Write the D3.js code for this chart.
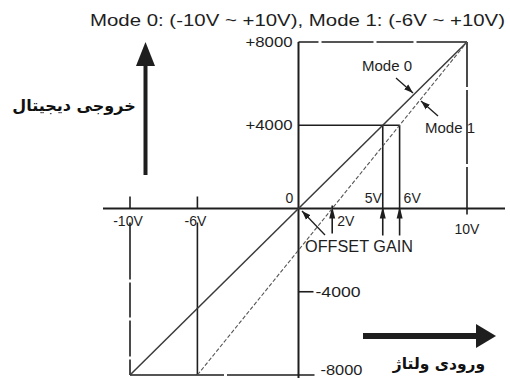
<!DOCTYPE html>
<html>
<head>
<meta charset="utf-8">
<script src="https://cdn.jsdelivr.net/npm/d3@7"></script>
<style>
  body { margin: 0; background: #fff; }
  svg { display: block; font-family: "Liberation Sans", Arial, sans-serif; }
</style>
</head>
<body>
<svg id="chart" width="510" height="378"></svg>
<script>
// chart values
const titleText = "Mode 0: (-10V ~ +10V), Mode 1: (-6V ~ +10V)";
const xTickValues = [-10, -6, 10];
const xTickLabels = ["-10V", "-6V", "10V"];
const yTickValues = [8000, 4000, 0, -4000, -8000];
const yTickLabels = ["+8000", "+4000", "0", "-4000", "-8000"];
const mode0 = [[-10, -8000], [10, 8000]];
const mode1 = [[-6, -8000], [10, 8000]];
const offsetV = 2;      // mode 1 crosses zero here
const gainV = [5, 6];   // +4000 reached by mode 0 / mode 1
const yLabelText = "خروجی دیجیتال";
const xLabelText = "ورودی ولتاژ";

function init() {
    chart();
}

function chart() {
    const svg = d3.select("#chart");
    const ink = "#1e1e1e";

    const x = d3.scaleLinear().domain([-10, 10]).range([130, 467]);
    const y = d3.scaleLinear().domain([-8000, 8000]).range([375, 42]);
    const x0 = x(0), y0 = y(0);

    svg.append("defs").append("marker")
        .attr("id", "head")
        .attr("viewBox", "0 0 10 10")
        .attr("refX", 10).attr("refY", 5)
        .attr("markerWidth", 7).attr("markerHeight", 7)
        .attr("orient", "auto")
        .append("path")
        .attr("d", "M0,1.5L10,5L0,8.5Z")
        .attr("fill", ink);

    // title
    svg.append("text")
        .attr("x", 90).attr("y", 26)
        .attr("font-size", "16.5px")
        .attr("textLength", 415)
        .attr("lengthAdjust", "spacingAndGlyphs")
        .attr("fill", ink)
        .text(titleText);

    // frame lines (dashed with long dashes)
    const frame = svg.append("g").attr("stroke", ink).attr("stroke-width", 1.6).attr("fill", "none");
    frame.append("line") // top
        .attr("x1", x0).attr("x2", x(10)).attr("y1", y(8000)).attr("y2", y(8000))
        .attr("stroke-dasharray", "20,3,52,3,37,3,52");
    frame.append("line") // right
        .attr("x1", x(10)).attr("x2", x(10)).attr("y1", y(8000)).attr("y2", y0 + 6)
        .attr("stroke-dasharray", "45,3,74,3,60");
    frame.append("line") // left -10V
        .attr("x1", x(-10)).attr("x2", x(-10)).attr("y1", y0 + 14).attr("y2", y(-8000))
        .attr("stroke-dasharray", "57,3,35,3,36,3,40");
    frame.append("line") // bottom
        .attr("x1", x(-10)).attr("x2", x0 + 16).attr("y1", y(-8000)).attr("y2", y(-8000))
        .attr("stroke-dasharray", "94,3,200");
    frame.append("line") // -6V
        .attr("x1", x(-6)).attr("x2", x(-6)).attr("y1", y0 + 14).attr("y2", y(-8000));
    frame.append("line") // +4000 level
        .attr("x1", x0).attr("x2", x(gainV[1])).attr("y1", y(4000)).attr("y2", y(4000));

    // ticks above x-axis at -10V, -6V
    frame.selectAll(".xt")
        .data(xTickValues.slice(0, 2))
        .join("line")
        .attr("x1", d => x(d)).attr("x2", d => x(d))
        .attr("y1", y0 - 12).attr("y2", y0);

    // -4000 tick
    frame.append("line")
        .attr("x1", x0).attr("x2", x0 + 15).attr("y1", y(-4000)).attr("y2", y(-4000));

    // gain / offset drop lines
    frame.selectAll(".gl")
        .data(gainV)
        .join("line")
        .attr("x1", d => x(d)).attr("x2", d => x(d))
        .attr("y1", y(4000)).attr("y2", y0 + 27);
    frame.append("line")
        .attr("x1", x(offsetV)).attr("x2", x(offsetV))
        .attr("y1", y0 - 3).attr("y2", y0 + 25);

    // small up arrowheads on the axis
    svg.selectAll(".ah")
        .data(gainV.concat([offsetV]))
        .join("path")
        .attr("d", d => `M${x(d)},${y0 - 2}L${x(d) - 3},${y0 + 10}L${x(d) + 3},${y0 + 10}Z`)
        .attr("fill", ink);

    // axes
    svg.append("line")
        .attr("x1", 103).attr("x2", 505).attr("y1", y0).attr("y2", y0)
        .attr("stroke", ink).attr("stroke-width", 2);
    svg.append("line")
        .attr("x1", x0).attr("x2", x0).attr("y1", y(8000)).attr("y2", 378)
        .attr("stroke", ink).attr("stroke-width", 2);

    // transfer lines
    const line = d3.line().x(d => x(d[0])).y(d => y(d[1]));
    svg.append("path")
        .datum(mode0)
        .attr("d", line)
        .attr("fill", "none")
        .attr("stroke", "#3a3a3a")
        .attr("stroke-width", 1.5);
    svg.append("path")
        .datum(mode1)
        .attr("d", line)
        .attr("fill", "none")
        .attr("stroke", "#555")
        .attr("stroke-width", 1.1)
        .attr("stroke-dasharray", "4,2");

    // leaders
    const leaders = [
        [396, 78, 413, 93],
        [438, 116, 421, 101],
        [325, 235, 302, 211]
    ];
    svg.selectAll(".ld")
        .data(leaders)
        .join("line")
        .attr("x1", d => d[0]).attr("y1", d => d[1])
        .attr("x2", d => d[2]).attr("y2", d => d[3])
        .attr("stroke", ink).attr("stroke-width", 1.3)
        .attr("marker-end", "url(#head)");

    // x tick labels
    svg.selectAll(".xl")
        .data(xTickValues)
        .join("text")
        .attr("x", d => x(d) + (d === 10 ? 0 : -2))
        .attr("y", d => d === 10 ? y0 + 25 : y0 + 17)
        .attr("text-anchor", "middle")
        .attr("font-size", "14px")
        .attr("fill", ink)
        .text((d, i) => xTickLabels[i]);

    // y tick labels
    const yLen = { "8000": 47, "4000": 47, "-4000": 45, "-8000": 42 };
    svg.selectAll(".yl")
        .data(yTickValues)
        .join("text")
        .attr("x", d => d > 0 ? x0 - 53 : (d === 0 ? x0 - 13 : x0 + (d === -8000 ? 22 : 17)))
        .attr("y", d => d === 0 ? y0 - 6 : (d === -8000 ? y(d) : y(d) + 5))
        .attr("font-size", "14px")
        .attr("fill", ink)
        .each(function (d) {
            if (yLen[d]) d3.select(this).attr("textLength", yLen[d]).attr("lengthAdjust", "spacingAndGlyphs");
        })
        .text((d, i) => yTickLabels[i]);

    // gain / offset labels
    svg.append("text").attr("x", x(gainV[0]) - 1).attr("y", y0 - 6)
        .attr("text-anchor", "end").attr("font-size", "14px").attr("fill", ink)
        .text(gainV[0] + "V");
    svg.append("text").attr("x", x(gainV[1]) + 4).attr("y", y0 - 6)
        .attr("font-size", "14px").attr("fill", ink)
        .text(gainV[1] + "V");
    svg.append("text").attr("x", x(offsetV) + 5).attr("y", y0 + 17)
        .attr("font-size", "14px").attr("fill", ink)
        .text(offsetV + "V");
    svg.append("text").attr("x", 305).attr("y", 252)
        .attr("font-size", "16px").attr("fill", ink)
        .attr("textLength", 108).attr("lengthAdjust", "spacingAndGlyphs")
        .text("OFFSET GAIN");

    // mode labels
    svg.append("text").attr("x", 362).attr("y", 71)
        .attr("font-size", "15px").attr("fill", ink).text("Mode 0");
    svg.append("text").attr("x", 425).attr("y", 133)
        .attr("font-size", "15px").attr("fill", ink).text("Mode 1");

    // big arrows
    svg.append("rect").attr("x", 143.5).attr("y", 62).attr("width", 4).attr("height", 113).attr("fill", ink);
    svg.append("path").attr("d", "M136,66L155,66L145.5,42Z").attr("fill", ink);
    svg.append("rect").attr("x", 363).attr("y", 333).attr("width", 117).attr("height", 6).attr("fill", ink);
    svg.append("path").attr("d", "M476,324L476,348L496,336Z").attr("fill", ink);

    // persian axis titles
    svg.append("text")
        .attr("x", 74).attr("y", 111)
        .attr("text-anchor", "middle")
        .attr("font-family", "DejaVu Sans")
        .attr("font-weight", "bold")
        .attr("font-size", "16px")
        .attr("fill", "#111")
        .text(yLabelText);
    svg.append("text")
        .attr("x", 439).attr("y", 369)
        .attr("text-anchor", "middle")
        .attr("font-family", "DejaVu Sans")
        .attr("font-weight", "bold")
        .attr("font-size", "15.5px")
        .attr("fill", "#111")
        .text(xLabelText);
}

window.onload = init;
</script>
</body>
</html>
